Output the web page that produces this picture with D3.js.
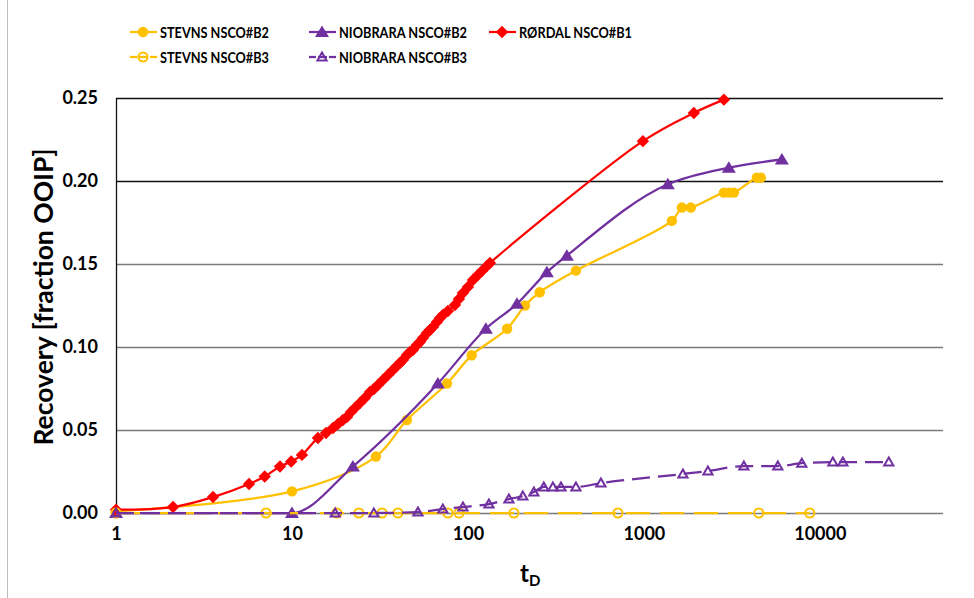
<!DOCTYPE html>
<html><head><meta charset="utf-8">
<script src="https://cdn.jsdelivr.net/npm/d3@7"></script>
<style>
html,body{margin:0;padding:0;background:#fff;}
svg{display:block;}
text{font-family:Lato,"Open Sans",sans-serif;font-weight:bold;fill:#000;}
</style></head>
<body>
<svg id="chart" width="974" height="598"></svg>
<script>
// ---------- data ----------
const stevnsB2_t = [1, 10, 30, 45, 76, 105, 167, 211, 256, 411, 1442, 1644, 1849, 2850, 3050, 3250, 4385, 4620];
const stevnsB2_v = [0.001, 0.013, 0.034, 0.056, 0.078, 0.095, 0.111, 0.125, 0.133, 0.146, 0.176, 0.184, 0.184, 0.193, 0.193, 0.193, 0.202, 0.202];

const niobraraB2_t = [1, 10, 22.2, 67.5, 126.5, 190, 281, 365, 1368, 3040, 6085];
const niobraraB2_v = [0, 0, 0.028, 0.078, 0.111, 0.126, 0.145, 0.155, 0.198, 0.208, 0.213];

const rordalB1_t = [1, 2.11, 3.56, 5.7, 7.0, 8.55, 9.9, 11.4,
  14.05, 15.61, 17.10, 18.26, 19.49, 20.54, 21.64, 22.80, 24.34, 25.98, 27.75, 29.24,
  30.81, 32.89, 35.12, 37.49, 39.50, 41.08, 42.72, 45.02, 46.82, 48.70, 51.31, 53.38,
  55.51, 58.48, 60.83, 63.26, 66.66, 69.33, 72.11, 76.98, 84.36, 88.88, 93.67, 100,
  106.8, 114.0, 120.1, 128.2, 133.4, 987, 1923, 2850];
const rordalB1_v = [0.002, 0.0036, 0.0096, 0.0175, 0.022, 0.028, 0.031, 0.035,
  0.0452, 0.0482, 0.0512, 0.0536, 0.0560, 0.0578, 0.0608, 0.0633, 0.0663, 0.0693, 0.0729, 0.0747,
  0.0771, 0.0801, 0.0831, 0.0861, 0.0886, 0.0904, 0.0922, 0.0952, 0.0970, 0.0982, 0.1012, 0.1030,
  0.1054, 0.1084, 0.1102, 0.1120, 0.1151, 0.1175, 0.1193, 0.1217, 0.1253, 0.1289, 0.1325, 0.1361,
  0.1404, 0.1434, 0.1458, 0.1488, 0.1506, 0.224, 0.241, 0.249];

const stevnsB3_t = [1, 7.12, 18.0, 24.0, 32.5, 40.0, 77, 89, 182.5, 712, 4500, 8770];
const stevnsB3_v = [0, 0, 0, 0, 0, 0, 0, 0, 0, 0, 0, 0];

const niobraraB3_t = [1, 17.6, 29.2, 52, 72, 93.7, 131.6, 171, 205, 237, 270, 304, 338, 411, 570, 1667, 2312, 3700, 5770, 7900, 11860, 13520, 24660];
const niobraraB3_v = [0, 0, 0, 0.0006, 0.0024, 0.0036, 0.0054, 0.0084, 0.0102, 0.0127, 0.0157, 0.0157, 0.0157, 0.0157, 0.018, 0.0235, 0.0253, 0.0283, 0.0283, 0.030, 0.0307, 0.0307, 0.0307];

const seriesNames = ["STEVNS NSCO#B2", "NIOBRARA NSCO#B2", "RØRDAL NSCO#B1", "STEVNS NSCO#B3", "NIOBRARA NSCO#B3"];
const yTicks = [0, 0.05, 0.10, 0.15, 0.20, 0.25];
const xTicks = [1, 10, 100, 1000, 10000];
const yTitle = "Recovery [fraction OOIP]";

// ---------- setup ----------
const svg = d3.select("#chart");
const x = d3.scaleLog().domain([1, Math.pow(10, 4.7)]).range([116, 943]);
const y = d3.scaleLinear().domain([0, 0.25]).range([513, 98]);

const YEL = "#FFC000", PUR = "#7030A0", RED = "#FF0000";

// outer border line (left)
svg.append("line").attr("x1", 7.5).attr("x2", 7.5).attr("y1", 0).attr("y2", 598)
  .attr("stroke", "#bdbdbd").attr("stroke-width", 1);

// gridlines
yTicks.forEach(v => {
  svg.append("line")
    .attr("x1", x.range()[0]).attr("x2", x.range()[1])
    .attr("y1", Math.round(y(v)) + 0.5).attr("y2", Math.round(y(v)) + 0.5)
    .attr("stroke", v >= 0.2 ? "#111" : "#7a7a7a").attr("stroke-width", 1.3);
});
// left axis line
svg.append("line").attr("x1", 116.5).attr("x2", 116.5).attr("y1", y(0.25)).attr("y2", y(0))
  .attr("stroke", "#111").attr("stroke-width", 1.3);

// axes labels
const yAxis = d3.axisLeft(y).tickValues(yTicks).tickFormat(d3.format(".2f")).tickSize(0).tickPadding(0);
const gy = svg.append("g").attr("transform", "translate(98,0)").call(yAxis);
gy.select(".domain").remove();
gy.selectAll("text").attr("font-size", 18).attr("font-family", "Lato").attr("font-weight", "bold").attr("fill", "#000");

const xAxis = d3.axisBottom(x).tickValues(xTicks).tickFormat(d3.format("d")).tickSize(0).tickPadding(0);
const gx = svg.append("g").attr("transform", "translate(0,527)").call(xAxis);
gx.select(".domain").remove();
gx.selectAll("text").attr("font-size", 18).attr("font-family", "Lato").attr("font-weight", "bold").attr("fill", "#000");

// axis titles
svg.append("text").attr("transform", "translate(53,297) rotate(-90)")
  .attr("text-anchor", "middle").attr("font-size", 26.5).text(yTitle);
const tD = svg.append("text").attr("x", 520).attr("y", 582).attr("font-size", 24);
tD.append("tspan").text("t");
tD.append("tspan").attr("font-size", 15).attr("dy", 4).text("D");

// marker shapes
function drawMarker(g, type, color, cx, cy) {
  if (type === "circle") {
    g.append("circle").attr("cx", cx).attr("cy", cy).attr("r", 5.2).attr("fill", color);
  } else if (type === "ocircle") {
    g.append("circle").attr("cx", cx).attr("cy", cy).attr("r", 4.6).attr("fill", "none")
      .attr("stroke", color).attr("stroke-width", 2);
  } else if (type === "diamond") {
    const r = 6.2;
    g.append("path").attr("d", `M${cx},${cy - r}L${cx + r},${cy}L${cx},${cy + r}L${cx - r},${cy}Z`).attr("fill", color);
  } else if (type === "tri") {
    g.append("path").attr("d", `M${cx},${cy - 6.5}L${cx + 7},${cy + 5}L${cx - 7},${cy + 5}Z`).attr("fill", color);
  } else if (type === "otri") {
    g.append("path").attr("d", `M${cx},${cy - 4.5}L${cx + 4.6},${cy + 3.5}L${cx - 4.6},${cy + 3.5}Z`)
      .attr("fill", "none").attr("stroke", color).attr("stroke-width", 2).attr("stroke-linejoin", "miter");
  }
}

const catmull = d3.curveCatmullRom.alpha(0.5);
const mono = d3.curveMonotoneX;
const series = [
  { name: seriesNames[0], t: stevnsB2_t, v: stevnsB2_v, color: YEL, marker: "circle", dash: null, curve: catmull, legW: 109 },
  { name: seriesNames[1], t: niobraraB2_t, v: niobraraB2_v, color: PUR, marker: "tri", dash: null, curve: mono, legW: 128 },
  { name: seriesNames[2], t: rordalB1_t, v: rordalB1_v, color: RED, marker: "diamond", dash: null, curve: catmull, legW: 113 },
  { name: seriesNames[3], t: stevnsB3_t, v: stevnsB3_v, color: YEL, marker: "ocircle", dash: "24,10", curve: mono, legW: 109 },
  { name: seriesNames[4], t: niobraraB3_t, v: niobraraB3_v, color: PUR, marker: "otri", dash: "18,8", curve: mono, legW: 128 }
];

series.forEach(s => {
  const pts = s.t.map((t, i) => [t, s.v[i]]);
  const line = d3.line().x(d => x(d[0])).y(d => y(d[1])).curve(s.curve);
  const g = svg.append("g");
  g.append("path").attr("d", line(pts)).attr("fill", "none").attr("stroke", s.color)
    .attr("stroke-width", 2.25).attr("stroke-dasharray", s.dash);
  pts.forEach(p => drawMarker(g, s.marker, s.color, x(p[0]), y(p[1])));
});

// legend
const legendPos = [[130, 32], [309, 32], [489, 32], [130, 57], [309, 57]];
series.forEach((s, i) => {
  const [lx, ly] = legendPos[i];
  const g = svg.append("g");
  if (s.dash) {
    g.append("line").attr("x1", lx).attr("x2", lx + 7).attr("y1", ly).attr("y2", ly)
      .attr("stroke", s.color).attr("stroke-width", 2.25);
    g.append("line").attr("x1", lx + 20).attr("x2", lx + 27).attr("y1", ly).attr("y2", ly)
      .attr("stroke", s.color).attr("stroke-width", 2.25);
    g.append("line").attr("x1", lx + 9).attr("x2", lx + 18).attr("y1", ly).attr("y2", ly)
      .attr("stroke", s.color).attr("stroke-width", 2.25);
  } else {
    g.append("line").attr("x1", lx).attr("x2", lx + 27).attr("y1", ly).attr("y2", ly)
      .attr("stroke", s.color).attr("stroke-width", 2.25);
  }
  drawMarker(g, s.marker, s.color, lx + 13, ly);
  g.append("text").attr("x", lx + 30).attr("y", ly).attr("dy", "0.36em")
    .attr("font-size", 16).attr("textLength", s.legW).attr("lengthAdjust", "spacingAndGlyphs")
    .text(s.name);
});
</script>
</body></html>
